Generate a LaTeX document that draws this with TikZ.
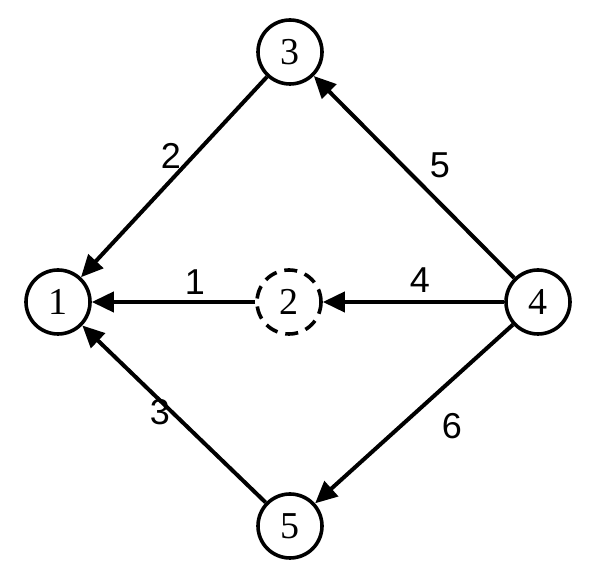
\documentclass[tikz,border=0pt]{standalone}
\usepackage{fontspec}
\setmainfont{Liberation Serif}
\newfontfamily\lblfont{Liberation Sans}
\usetikzlibrary{arrows.meta}

\begin{document}
\begin{tikzpicture}[>={Triangle[length=22pt,width=20pt]},x=1pt,y=1pt,line width=4pt,
  every node/.style={draw,circle,minimum size=64pt,inner sep=0pt,line width=3.6pt,font=\fontsize{38}{42}\selectfont}]
\useasboundingbox (0,0) rectangle (600,578);
\node (n1) at (58,276) {1};\node[dashed,dash pattern=on 13pt off 8pt] (n2) at (289,276) {2};
\node (n3) at (290,526) {3};\node (n4) at (538,276) {4};\node (n5) at (290,52) {5};
\tikzset{every node/.style={font=\lblfont\fontsize{36}{40}\selectfont}}
\draw[->] (n3)--(n1);\draw[->] (n2)--(n1);\draw[->] (n5)--(n1);
\draw[->] (n4)--(n3);\draw[->] (n4)--(n2);\draw[->] (n4)--(n5);
\node (e2) at (171,422) {2};\node (e5) at (440,413) {5};
\node (e1) at (195,296) {1};\node (e4) at (420,298) {4};
\node (e3) at (160,166) {3};\node (e6) at (452,152) {6};
\end{tikzpicture}
\end{document}
